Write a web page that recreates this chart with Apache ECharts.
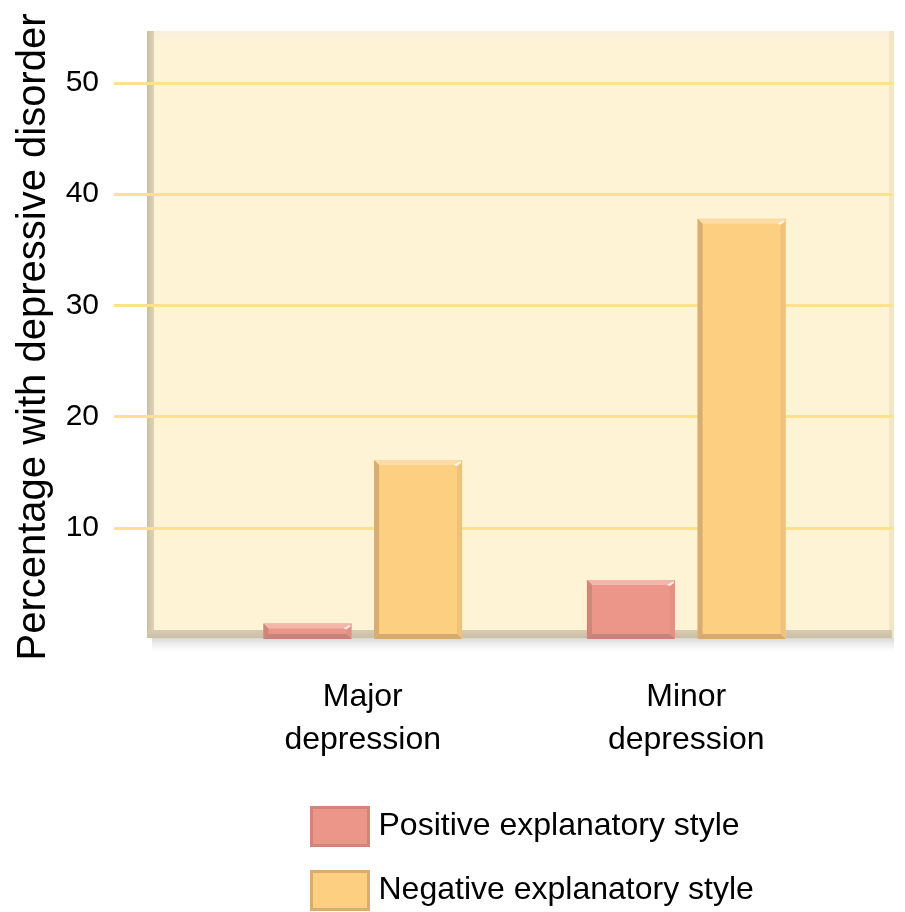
<!DOCTYPE html>
<html>
<head>
<meta charset="utf-8">
<script src="https://cdn.jsdelivr.net/npm/echarts@6/dist/echarts.min.js"></script>
<style>
  html, body { margin: 0; padding: 0; background: #ffffff; }
  #chart { width: 905px; height: 912px; }
</style>
</head>
<body>
<div id="chart"></div>
<script>
// Categories and series values (percentage with depressive disorder)
const categories = ['Major\ndepression', 'Minor\ndepression'];
const seriesNames = ['Positive explanatory style', 'Negative explanatory style'];
const positiveValues = [1.4, 5.3];
const negativeValues = [16.1, 37.8];
const yTicks = { min: 0, max: 50, interval: 10 };

const FONT = '"Liberation Sans", Arial, Helvetica, sans-serif';
const TEXT = '#000000';

// bevel palettes for the two bar styles
const palettes = {
  positive: { main: '#ec9589', top: '#f3b6ab', left: '#d0857a', right: '#e39185', bottom: '#c7837a' },
  negative: { main: '#fdcf80', top: '#fcdca6', left: '#d8ad71', right: '#eec27b', bottom: '#d6a96d' }
};

const BAR_RATIO = 0.272;   // bar width as share of category band
const BAR_SHIFT = 0.171;   // centre offset of each bar from band centre

function bevelBar(shift, pal) {
  return function (params, api) {
    const cat = api.value(0);
    const val = api.value(1);
    const topPt = api.coord([cat, val]);
    const basePt = api.coord([cat, 0]);
    const band = api.size([1, 0])[0];
    const w = band * BAR_RATIO;
    const cx = topPt[0] + band * shift;
    const x0 = cx - w / 2, x1 = cx + w / 2;
    const y0 = topPt[1], y1 = basePt[1];
    const b = Math.min(5, (y1 - y0) / 2.5);
    return {
      type: 'group',
      children: [
        { type: 'rect', shape: { x: x0, y: y0, width: w, height: y1 - y0 }, style: { fill: pal.main } },
        { type: 'polygon', shape: { points: [[x0, y0], [x1, y0], [x1 - b, y0 + b], [x0 + b, y0 + b]] }, style: { fill: pal.top } },
        { type: 'polygon', shape: { points: [[x0, y0], [x0 + b, y0 + b], [x0 + b, y1 - b], [x0, y1]] }, style: { fill: pal.left } },
        { type: 'polygon', shape: { points: [[x1, y0], [x1, y1], [x1 - b, y1 - b], [x1 - b, y0 + b]] }, style: { fill: pal.right } },
        { type: 'polygon', shape: { points: [[x0, y1], [x0 + b, y1 - b], [x1 - b, y1 - b], [x1, y1]] }, style: { fill: pal.bottom } },
        { type: 'polygon', shape: { points: [[x1 - b - 3, y0 + b], [x1 - 1, y0 + 1], [x1 - 1, y0 + 3], [x1 - b, y0 + b + 1]] }, style: { fill: 'rgba(255,255,255,0.8)' } }
      ]
    };
  };
}

function legendBlock(name, pal, top) {
  return {
    orient: 'vertical', left: 310, top: top, padding: 0,
    itemWidth: 57, itemHeight: 38, icon: 'rect',
    textStyle: { fontSize: 32, color: TEXT, fontFamily: FONT, padding: [0, 0, 0, 5] },
    data: [{ name: name, itemStyle: { color: pal.main, borderColor: pal.left, borderWidth: 3 } }]
  };
}

const chart = echarts.init(document.getElementById('chart'), null, { renderer: 'canvas' });

chart.setOption({
  backgroundColor: '#ffffff',
  animation: false,
  textStyle: { fontFamily: FONT },
  graphic: [
    // soft shadow under the panel floor
    { type: 'rect', z: -20, shape: { x: 152, y: 636, width: 742, height: 16 },
      style: { fill: new echarts.graphic.LinearGradient(0, 0, 0, 1, [
        { offset: 0, color: 'rgba(150,150,150,0.45)' }, { offset: 1, color: 'rgba(200,200,200,0)' }]) } },
    // panel back wall
    { type: 'rect', z: -19, shape: { x: 148, y: 31, width: 746, height: 607 },
      style: { fill: new echarts.graphic.LinearGradient(0, 0, 0, 1, [
        { offset: 0, color: '#f8efdb' }, { offset: 0.02, color: '#fef3d5' }, { offset: 1, color: '#fef3d5' }]) } },
    // right edge highlight
    { type: 'rect', z: -18, shape: { x: 889, y: 31, width: 5, height: 607 },
      style: { fill: '#f3e6c7' } },
    // left wall
    { type: 'rect', z: -18, shape: { x: 147, y: 31, width: 7, height: 607 },
      style: { fill: new echarts.graphic.LinearGradient(0, 0, 1, 0, [
        { offset: 0, color: '#cbbf9f' }, { offset: 1, color: '#ddd3b9' }]) } },
    // floor
    { type: 'rect', z: -18, shape: { x: 148, y: 630, width: 744, height: 8 },
      style: { fill: new echarts.graphic.LinearGradient(0, 0, 0, 1, [
        { offset: 0, color: '#d6ccb3' }, { offset: 1, color: '#cabfa5' }]) } }
  ],
  grid: [
    { left: 201, right: 57, top: 83, bottom: 273 },
    { left: 114, right: 12, top: 83, bottom: 273 }
  ],
  xAxis: [
    {
      type: 'category', gridIndex: 0, data: categories,
      axisLine: { show: false }, axisTick: { show: false },
      axisLabel: { fontSize: 32, color: TEXT, lineHeight: 43, margin: 37, fontFamily: FONT }
    },
    { type: 'category', gridIndex: 1, data: categories, show: false }
  ],
  yAxis: [
    { type: 'value', gridIndex: 0, min: yTicks.min, max: yTicks.max, interval: yTicks.interval, show: false },
    {
      type: 'value', gridIndex: 1, min: yTicks.min, max: yTicks.max, interval: yTicks.interval,
      axisLine: { show: false }, axisTick: { show: false },
      splitLine: { show: true, showMinLine: false, lineStyle: { color: '#fde18c', width: 3 } },
      axisLabel: { fontSize: 30, color: TEXT, margin: 15, showMinLabel: false, fontFamily: FONT,
        formatter: v => (v === 0 ? '' : String(v)) },
      name: 'Percentage with depressive disorder',
      nameLocation: 'middle', nameGap: 60, nameRotate: 90,
      nameTextStyle: { fontSize: 40, color: TEXT, fontFamily: FONT, padding: [0, 0, 0, 48] }
    }
  ],
  legend: [
    legendBlock(seriesNames[0], palettes.positive, 806),
    legendBlock(seriesNames[1], palettes.negative, 870)
  ],
  series: [
    {
      name: seriesNames[0], type: 'custom', xAxisIndex: 0, yAxisIndex: 0, z: 5,
      itemStyle: { color: palettes.positive.main },
      renderItem: bevelBar(-BAR_SHIFT, palettes.positive),
      encode: { x: 0, y: 1 },
      data: positiveValues.map((v, i) => [i, v])
    },
    {
      name: seriesNames[1], type: 'custom', xAxisIndex: 0, yAxisIndex: 0, z: 5,
      itemStyle: { color: palettes.negative.main },
      renderItem: bevelBar(BAR_SHIFT, palettes.negative),
      encode: { x: 0, y: 1 },
      data: negativeValues.map((v, i) => [i, v])
    }
  ]
});
</script>
</body>
</html>
